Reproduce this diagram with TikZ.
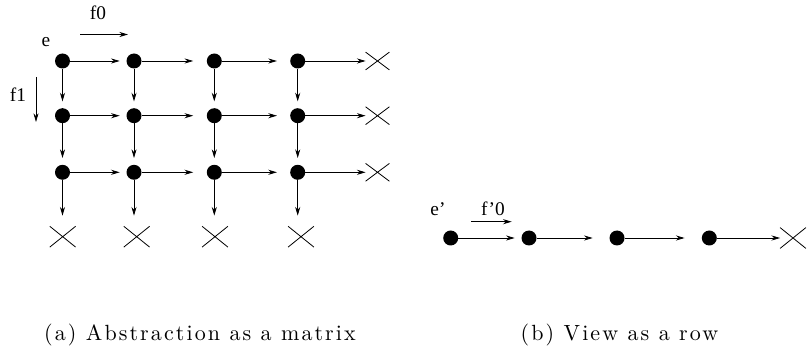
\documentclass[tikz,border=0pt]{standalone}
\usepackage{fontspec}
\usetikzlibrary{arrows.meta,shapes.misc}
\newfontfamily\labfont{Liberation Serif}
\newfontfamily\capfont{Latin Modern Roman}[LetterSpace=9.5]
\newcommand{\capttext}[1]{\scalebox{1.65}{\capfont\fontsize{10}{12}\selectfont #1}}
\tikzset{
  dot/.style={circle,fill=black,inner sep=0pt,minimum size=11.25pt},
  rxmark/.style={cross out,draw=black,line width=0.6pt,inner sep=0pt,minimum width=17.25pt,minimum height=12.75pt},
  bxmark/.style={cross out,draw=black,line width=0.6pt,inner sep=0pt,minimum width=18.75pt,minimum height=15pt},
  conn/.style={draw=black,line width=0.6pt,-{Stealth[length=6.5pt,width=3.8pt]}},
  lab/.style={font=\labfont\fontsize{14.5}{16}\selectfont,inner sep=0pt,anchor=base},
  capt/.style={inner sep=0pt,anchor=base}
}
\begin{document}
\begin{tikzpicture}[x=0.75pt,y=-0.75pt]
\useasboundingbox (0,0) rectangle (807,356);
% matrix dots
\foreach \c/\x in {1/62.5,2/134,3/214.3,4/297.7}{
  \foreach \r/\y in {1/61,2/115.7,3/172.3}{
    \node[dot] (d\r\c) at (\x,\y) {};
  }
}
% right crosses
\node[rxmark] (x1) at (377.5,61) {};
\node[rxmark] (x2) at (377.5,115.7) {};
\node[rxmark] (x3) at (377.5,172.3) {};
% bottom crosses
\node[bxmark] (b1) at (62.7,236.7) {};
\node[bxmark] (b2) at (136.7,236.7) {};
\node[bxmark] (b3) at (215,236.7) {};
\node[bxmark] (b4) at (301,236.7) {};
% horizontal arrows
\foreach \r in {1,2,3}{
  \draw[conn,shorten >=4.9pt] (d\r1) -- (d\r2);
  \draw[conn,shorten >=10pt] (d\r2) -- (d\r3);
  \draw[conn,shorten >=9.75pt] (d\r3) -- (d\r4);
  \draw[conn] (d\r4) -- (x\r.west);
}
% vertical arrows
\foreach \c in {1,2,3,4}{
  \draw[conn,shorten >=4.9pt] (d1\c) -- (d2\c);
  \draw[conn,shorten >=4.9pt] (d2\c) -- (d3\c);
  \draw[conn,shorten >=8pt] (d3\c) -- (d3\c |- b\c.north);
}
% labels (a)
\node[lab] (le) at (46,47) {e};
\node[lab] (lf0) at (98,20) {f0};
\node[lab] (lf1) at (18,101.7) {f1};
\coordinate (f0s) at (80,34.5);
\coordinate (f0e) at (128,34.5);
\draw[conn] (f0s) -- (f0e);
\coordinate (f1s) at (36,77);
\coordinate (f1e) at (36,122);
\draw[conn] (f1s) -- (f1e);
% row
\node[dot] (r1) at (450.7,238) {};
\node[dot] (r2) at (529,238) {};
\node[dot] (r3) at (617,238) {};
\node[dot] (r4) at (709.3,238) {};
\node[bxmark] (xr) at (793,238) {};
\draw[conn,shorten >=4.9pt] (r1) -- (r2);
\draw[conn,shorten >=12.4pt] (r2) -- (r3);
\draw[conn,shorten >=12.7pt] (r3) -- (r4);
\draw[conn] (r4) -- (xr.west);
\node[lab] (lep) at (438,215) {e’};
\node[lab] (lfp) at (493,215) {f’0};
\coordinate (fps) at (471,221.7);
\coordinate (fpe) at (511.7,221.7);
\draw[conn] (fps) -- (fpe);
% captions
\node[capt] (capa) at (200,340) {\capttext{(a) Abstraction as a matrix}};
\node[capt] (capb) at (619.5,340) {\capttext{(b) View as a row}};
\end{tikzpicture}
\end{document}
